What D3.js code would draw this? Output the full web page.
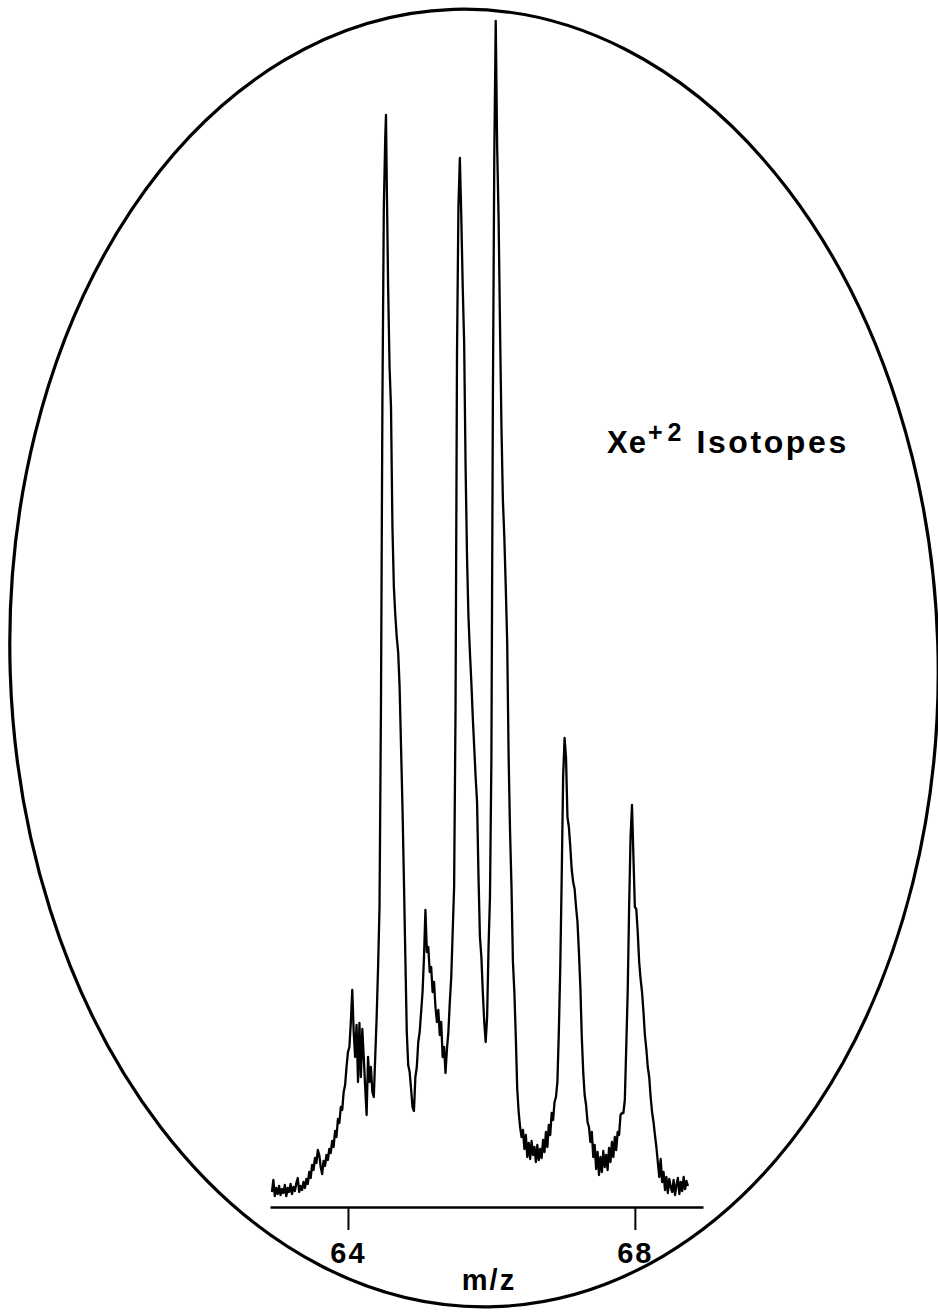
<!DOCTYPE html>
<html>
<head>
<meta charset="utf-8">
<script src="https://cdn.jsdelivr.net/npm/d3@7"></script>
<style>
  body { margin: 0; background: #fff; }
  text { font-family: "Liberation Sans", Arial, Helvetica, sans-serif; font-weight: bold; fill: #000; }
</style>
</head>
<body>
<div id="chart"></div>
<script>
// m/z ticks and labels
const tickValues = [64, 68];
const xLabel = "m/z";
const titleMain = "Xe";
const titleSup = "+2";
const titleRest = "Isotopes";

// Spectrum trace: [m/z, intensity (arb. units)]
const baselineLeft = [
  [62.94, 15], [62.96, 27], [62.98, 11], [63.00, 19], [63.02, 13], [63.04, 21], [63.06, 12], [63.08, 18],
  [63.10, 14], [63.12, 22], [63.14, 11], [63.16, 19], [63.18, 15], [63.20, 23], [63.22, 13], [63.24, 20],
  [63.26, 16], [63.28, 24], [63.30, 29], [63.32, 15], [63.34, 21], [63.36, 17], [63.38, 25], [63.40, 19],
  [63.42, 28], [63.44, 23], [63.46, 35], [63.48, 29], [63.50, 42], [63.52, 37], [63.54, 49], [63.56, 44],
  [63.58, 57], [63.60, 52], [63.62, 40], [63.64, 33], [63.66, 46], [63.68, 41], [63.70, 52], [63.72, 47],
  [63.74, 58], [63.76, 54], [63.78, 66], [63.80, 60], [63.82, 76], [63.84, 70], [63.86, 88], [63.88, 84],
  [63.90, 100], [63.92, 97], [63.94, 115], [63.96, 122]
];

const peaks64to65 = [
  [63.98, 140], [64.00, 155], [64.02, 160], [64.04, 185], [64.06, 217], [64.08, 175], [64.10, 150],
  [64.12, 182], [64.14, 125], [64.16, 184], [64.18, 130], [64.20, 178], [64.22, 150], [64.24, 120],
  [64.26, 92], [64.28, 150], [64.30, 125], [64.32, 140], [64.34, 115], [64.36, 110], [64.38, 150],
  [64.40, 190], [64.42, 240], [64.44, 300], [64.46, 500], [64.48, 800], [64.50, 1000], [64.52, 1070],
  [64.53, 1092], [64.54, 1030], [64.56, 920], [64.58, 840], [64.60, 800], [64.62, 680], [64.64, 620],
  [64.66, 592], [64.68, 570], [64.70, 555], [64.72, 520], [64.74, 460], [64.76, 400], [64.78, 327],
  [64.80, 250], [64.82, 175], [64.84, 142], [64.86, 135], [64.88, 118], [64.90, 100], [64.92, 96],
  [64.94, 130], [64.96, 140], [64.98, 165], [65.00, 175], [65.02, 195], [65.04, 215], [65.06, 250],
  [65.08, 297], [65.10, 255], [65.12, 260], [65.14, 235], [65.16, 240], [65.18, 215], [65.20, 225],
  [65.22, 200], [65.24, 185], [65.26, 197], [65.28, 172], [65.30, 185], [65.32, 150], [65.34, 160],
  [65.36, 134], [65.38, 158], [65.40, 175], [65.42, 205], [65.44, 230]
];

const peaks655to66 = [
  [65.46, 275], [65.48, 320], [65.50, 500], [65.52, 850], [65.54, 1000], [65.56, 1049], [65.58, 990],
  [65.60, 920], [65.62, 864], [65.64, 740], [65.66, 650], [65.68, 590], [65.70, 555], [65.72, 525],
  [65.74, 490], [65.76, 460], [65.78, 430], [65.80, 405], [65.82, 330], [65.84, 270], [65.86, 250],
  [65.88, 215], [65.90, 185], [65.92, 165], [65.94, 190], [65.96, 260], [65.98, 310], [66.00, 450],
  [66.02, 800], [66.04, 1050], [66.06, 1186], [66.08, 1060], [66.10, 990], [66.12, 880], [66.14, 780],
  [66.16, 707], [66.18, 670], [66.20, 620], [66.22, 565], [66.24, 450], [66.26, 375], [66.28, 320],
  [66.30, 245], [66.32, 215], [66.34, 170], [66.36, 118], [66.38, 95], [66.40, 80]
];

const valley66to67 = [
  [66.42, 70], [66.44, 77], [66.46, 58], [66.48, 72], [66.50, 50], [66.52, 64], [66.54, 48], [66.56, 66],
  [66.58, 52], [66.60, 60], [66.62, 45], [66.64, 62], [66.66, 47], [66.68, 58], [66.70, 49], [66.72, 67],
  [66.74, 55], [66.76, 75], [66.78, 60], [66.80, 82], [66.82, 72], [66.84, 94], [66.86, 87]
];

const peak67 = [
  [66.88, 105], [66.90, 110], [66.92, 125], [66.94, 175], [66.96, 240], [66.98, 330], [67.00, 430],
  [67.02, 469], [67.04, 450], [67.06, 390], [67.08, 380], [67.10, 360], [67.12, 337], [67.14, 325],
  [67.16, 318], [67.18, 300], [67.20, 285], [67.22, 255], [67.24, 220], [67.26, 170], [67.28, 135],
  [67.30, 112]
];

const valley67to68 = [
  [67.32, 102], [67.34, 85], [67.36, 80], [67.38, 65], [67.40, 75], [67.42, 50], [67.44, 62], [67.46, 38],
  [67.48, 55], [67.50, 32], [67.52, 50], [67.54, 35], [67.56, 56], [67.58, 40], [67.60, 52], [67.62, 37],
  [67.64, 59], [67.66, 45], [67.68, 65], [67.70, 50], [67.72, 70], [67.74, 57], [67.76, 75], [67.78, 72],
  [67.80, 92], [67.82, 94]
];

const peak68 = [
  [67.84, 94], [67.86, 107], [67.88, 160], [67.90, 215], [67.92, 300], [67.94, 370], [67.96, 402],
  [67.98, 350], [68.00, 300], [68.02, 298], [68.04, 275], [68.06, 245], [68.08, 228], [68.10, 215],
  [68.12, 195], [68.14, 172], [68.16, 158], [68.18, 140], [68.20, 130], [68.22, 110], [68.24, 95]
];

const baselineRight = [
  [68.26, 85], [68.28, 72], [68.30, 60], [68.32, 45], [68.34, 30], [68.36, 48], [68.38, 25], [68.40, 35],
  [68.42, 17], [68.44, 30], [68.46, 14], [68.48, 28], [68.50, 20], [68.52, 15], [68.54, 27], [68.56, 12],
  [68.58, 22], [68.60, 29], [68.62, 13], [68.64, 25], [68.66, 16], [68.68, 30], [68.70, 18], [68.72, 26],
  [68.74, 21]
];

const spectrum = [].concat(baselineLeft, peaks64to65, peaks655to66, valley66to67,
  peak67, valley67to68, peak68, baselineRight);

const W = 938, H = 1314;

const svg = d3.select("#chart").append("svg")
  .attr("width", W)
  .attr("height", H);

svg.append("rect").attr("width", W).attr("height", H).attr("fill", "#fff");

// oval frame round the plot (slightly tilted, as drawn)
svg.append("ellipse")
  .attr("cx", 474)
  .attr("cy", 658)
  .attr("rx", 464)
  .attr("ry", 649)
  .attr("transform", "rotate(-1.8,474,658)")
  .attr("fill", "none")
  .attr("stroke", "#000")
  .attr("stroke-width", 3.2);

// scales
const x = d3.scaleLinear()
  .domain([62.913, 68.95])
  .range([270, 703]);

const y = d3.scaleLinear()
  .domain([0, 1200])
  .range([1207, 7]);

// x axis
const xAxis = svg.append("g")
  .attr("transform", "translate(0," + y(0) + ")")
  .call(d3.axisBottom(x)
    .tickValues(tickValues)
    .tickFormat(d3.format("d"))
    .tickSize(23)
    .tickSizeOuter(0)
    .tickPadding(12));

xAxis.select(".domain").attr("stroke", "#000").attr("stroke-width", 2.6);
xAxis.selectAll(".tick line").attr("stroke", "#000").attr("stroke-width", 2);
xAxis.selectAll(".tick text")
  .attr("font-size", 29)
  .attr("font-family", "'Liberation Sans', Arial, sans-serif")
  .attr("font-weight", "bold")
  .attr("letter-spacing", 2)
  .attr("fill", "#000");

svg.append("text")
  .attr("x", 489)
  .attr("y", 1290)
  .attr("text-anchor", "middle")
  .attr("font-size", 29)
  .attr("letter-spacing", 2)
  .text(xLabel);

// spectrum trace
const line = d3.line()
  .x(d => x(d[0]))
  .y(d => y(d[1]));

svg.append("path")
  .datum(spectrum)
  .attr("d", line)
  .attr("fill", "none")
  .attr("stroke", "#000")
  .attr("stroke-width", 2.3)
  .attr("stroke-linejoin", "round");

// title
const title = svg.append("text")
  .attr("x", 607)
  .attr("y", 453)
  .attr("font-size", 31)
  .attr("letter-spacing", 1);
title.append("tspan").text(titleMain);
title.append("tspan").attr("font-size", 25).attr("dy", -12).attr("dx", 1).attr("letter-spacing", 5).text(titleSup);
title.append("tspan").attr("dy", 12).attr("dx", 10).attr("font-size", 32).attr("letter-spacing", 2.6).text(titleRest);
</script>
</body>
</html>
